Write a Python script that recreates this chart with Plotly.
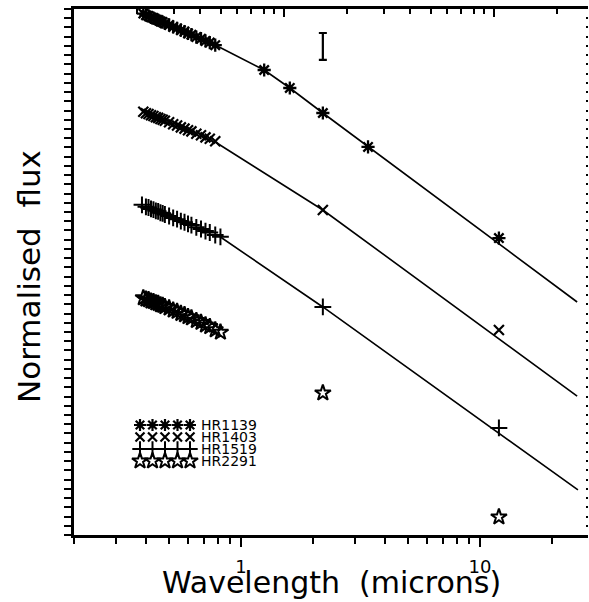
import plotly.graph_objects as go
import math

# ---------------- data ----------------
# y is in tick units of the (unlabelled) normalised-flux axis
LAM_OPT_A = [0.39, 0.40, 0.41, 0.42, 0.43, 0.44, 0.45, 0.46, 0.47, 0.48, 0.50,
             0.52, 0.54, 0.56, 0.58, 0.60, 0.62, 0.65, 0.68, 0.71, 0.74, 0.78]
LAM_OPT_B = [0.385, 0.40, 0.41, 0.42, 0.43, 0.44, 0.45, 0.46, 0.47, 0.48, 0.50,
             0.52, 0.54, 0.56, 0.58, 0.60, 0.62, 0.65, 0.68, 0.71, 0.74, 0.78, 0.82]
LAM_OPT_C = [0.39, 0.40, 0.41, 0.42, 0.43, 0.44, 0.45, 0.46, 0.47, 0.48, 0.50,
             0.52, 0.54, 0.56, 0.58, 0.60, 0.62, 0.65, 0.68, 0.71, 0.74, 0.78, 0.82]

HR1139_OPT = [56.50, 56.33, 56.25, 56.10, 56.02, 55.87, 55.80, 55.65, 55.58, 55.44, 55.27,
              55.05, 54.90, 54.70, 54.55, 54.35, 54.22, 53.96, 53.78, 53.53, 53.36, 53.08]
HR1403_OPT = [45.86, 45.70, 45.63, 45.48, 45.41, 45.27, 45.20, 45.07, 45.00, 44.88, 44.72,
              44.51, 44.37, 44.17, 44.04, 43.86, 43.74, 43.49, 43.32, 43.09, 42.94, 42.66]
HR1519_OPT = [35.78, 35.56, 35.49, 35.34, 35.27, 35.13, 35.07, 34.92, 34.86, 34.73, 34.57,
              34.36, 34.22, 34.02, 33.89, 33.71, 33.59, 33.34, 33.16, 32.94, 32.78, 32.51, 32.31]
HR2291_OPT = [25.70, 25.55, 25.49, 25.34, 25.28, 25.14, 25.08, 24.94, 24.88, 24.74, 24.59,
              24.37, 24.22, 24.00, 23.86, 23.65, 23.52, 23.23, 23.03, 22.75, 22.57, 22.23, 21.97]

HR1139_PHOT_LAM = [1.25, 1.6, 2.2, 3.4, 12.0]
HR1139_PHOT = [50.39, 48.44, 45.73, 42.05, 32.18]
PHOT_LAM = [2.2, 12.0]
HR1403_PHOT = [35.22, 22.21]
HR1519_PHOT = [24.71, 11.60]
HR2291_PHOT = [15.39, 1.95]

MODEL_LAM_A = [0.78, 1.25, 1.6, 2.2, 25.5]
HR1139_MODEL = [53.10, 50.39, 48.44, 45.73, 25.25]
MODEL_LAM_B = [0.78, 2.2, 25.5]
HR1403_MODEL = [42.59, 35.22, 15.06]
MODEL_LAM_C = [0.82, 2.2, 25.7]
HR1519_MODEL = [32.29, 24.71, 4.88]

ERR_LAM = [2.2]
ERR_Y = [52.94]
ERR_HALF = [1.46]

STARS = ["HR1139", "HR1403", "HR1519", "HR2291"]
X_TICKS = [1, 10]
X_TICK_TEXT = ["1", "10"]
X_MINOR = [0.2, 0.3, 0.4, 0.5, 0.6, 0.7, 0.8, 0.9, 2, 3, 4, 5, 6, 7, 8, 9, 20]
TOP_MINOR = [0.2, 0.3, 0.4, 0.5, 0.6, 0.7, 0.8, 0.9, 2, 3, 4, 5, 6, 7, 8, 9, 20]

# ---------------- styles ----------------
FONT = "DejaVu Sans"
SYM = {
    "HR1139": dict(symbol="asterisk", size=11, line=dict(width=2.3, color="black"), color="black"),
    "HR1403": dict(symbol="x-thin", size=10, line=dict(width=2.2, color="black"), color="black"),
    "HR1519": dict(symbol="cross-thin", size=12, line=dict(width=2, color="black"), color="black"),
    "HR2291": dict(symbol="star-open", size=12, line=dict(width=2, color="black"), color="black"),
}
SYM_LEG = {
    "HR1139": dict(symbol="asterisk", size=10, line=dict(width=2.2, color="black"), color="black"),
    "HR1403": dict(symbol="x-thin", size=9, line=dict(width=2.2, color="black"), color="black"),
    "HR1519": dict(symbol="cross-thin", size=11, line=dict(width=2, color="black"), color="black"),
    "HR2291": dict(symbol="star-open", size=12, line=dict(width=2, color="black"), color="black"),
}

W, H = 589, 602
L, R, T, B = 74, 1, 9, 67
pw, ph = W - L - R, H - T - B

fig = go.Figure()

def add_line(x, y):
    fig.add_trace(go.Scatter(x=x, y=y, mode="lines", line=dict(color="black", width=1.6),
                             showlegend=False, hoverinfo="skip"))

def add_pts(x, y, star):
    fig.add_trace(go.Scatter(x=x, y=y, mode="markers", marker=SYM[star],
                             showlegend=False, name=star))

add_line(MODEL_LAM_A, HR1139_MODEL)
add_line(MODEL_LAM_B, HR1403_MODEL)
add_line(MODEL_LAM_C, HR1519_MODEL)

add_pts(LAM_OPT_A, HR1139_OPT, "HR1139")
add_pts(HR1139_PHOT_LAM, HR1139_PHOT, "HR1139")
add_pts(LAM_OPT_A, HR1403_OPT, "HR1403")
add_pts(PHOT_LAM, HR1403_PHOT, "HR1403")
add_pts(LAM_OPT_B, HR1519_OPT, "HR1519")
add_pts(PHOT_LAM, HR1519_PHOT, "HR1519")
add_pts(LAM_OPT_C, HR2291_OPT, "HR2291")
add_pts(PHOT_LAM, HR2291_PHOT, "HR2291")

# representative error bar
fig.add_trace(go.Scatter(x=ERR_LAM, y=ERR_Y, mode="markers",
                         marker=dict(size=1, color="rgba(0,0,0,0)"),
                         error_y=dict(type="data", array=ERR_HALF, visible=True,
                                      color="black", thickness=2.2, width=4),
                         showlegend=False, hoverinfo="skip"))

# helper traces so overlay axes render
fig.add_trace(go.Scatter(x=[1], y=[10], xaxis="x2", yaxis="y", mode="markers",
                         marker=dict(opacity=0), showlegend=False, hoverinfo="skip"))
fig.add_trace(go.Scatter(x=[1], y=[10], xaxis="x", yaxis="y2", mode="markers",
                         marker=dict(opacity=0), showlegend=False, hoverinfo="skip"))

# hand-drawn style legend (pixel-like overlay axes)
LEG_X = [140, 152.5, 165, 177.5, 190]
LEG_ROWS = [425, 437, 449, 461]
for star, ry in zip(STARS, LEG_ROWS):
    fig.add_trace(go.Scatter(x=LEG_X, y=[ry] * len(LEG_X), xaxis="x3", yaxis="y3",
                             mode="markers", marker=SYM_LEG[star], showlegend=False,
                             hoverinfo="skip"))
    fig.add_annotation(x=199, y=ry, xref="x3", yref="y3", text=star, showarrow=False,
                       xanchor="left", yanchor="middle",
                       font=dict(family=FONT, size=14, color="black"))

fig.update_layout(
    width=W, height=H,
    margin=dict(l=L, r=R, t=T, b=B, pad=0),
    paper_bgcolor="white", plot_bgcolor="white",
    showlegend=False,
    xaxis=dict(type="log", range=[math.log10(0.2), 1.452], showline=True,
               linewidth=2.5, linecolor="black", ticks="outside", ticklen=9,
               tickwidth=2, tickcolor="black", tickvals=X_TICKS, ticktext=X_TICK_TEXT,
               showticklabels=True, ticklabelstandoff=5,
               tickfont=dict(family=FONT, size=18, color="black"),
               minor=dict(tickvals=X_MINOR, ticks="outside", ticklen=6, tickwidth=2,
                          tickcolor="black", showgrid=False),
               showgrid=False, zeroline=False),
    xaxis2=dict(type="log", range=[-1.0, 1.448], overlaying="x", side="top",
                showline=True, linewidth=2.5, linecolor="black", ticks="inside",
                ticklen=8, tickwidth=2, tickcolor="black", tickvals=[0.1, 1, 10],
                showticklabels=False,
                minor=dict(tickvals=TOP_MINOR, ticks="inside", ticklen=5, tickwidth=2,
                           tickcolor="black", showgrid=False),
                showgrid=False, zeroline=False),
    yaxis=dict(range=[0, 57], tick0=0, dtick=1, showline=True, linewidth=3,
               linecolor="black", ticks="outside", ticklen=7, tickwidth=2,
               tickcolor="black", showticklabels=False, showgrid=False, zeroline=False),
    yaxis2=dict(range=[0, 57], tick0=0, dtick=1, overlaying="y", side="right",
                showline=False, ticks="inside", ticklen=2, tickwidth=2,
                tickcolor="black", showticklabels=False, showgrid=False, zeroline=False),
    xaxis3=dict(range=[L, W - R], overlaying="x", anchor="y3", visible=False),
    yaxis3=dict(range=[H - B, T], overlaying="y", anchor="x3", visible=False),
)

fig.add_annotation(text="Wavelength\u00a0\u00a0(microns)", xref="paper", yref="paper",
                   x=(331 - L) / pw, y=(H - B - 582) / ph, showarrow=False,
                   xanchor="center", yanchor="middle",
                   font=dict(family=FONT, size=30, color="black"))
fig.add_annotation(text="Normalised\u00a0\u00a0flux", xref="paper", yref="paper",
                   x=(29 - L) / pw, y=(H - B - 277) / ph, showarrow=False,
                   textangle=-90, xanchor="center", yanchor="middle",
                   font=dict(family=FONT, size=31, color="black"))

fig.write_html("out.html")
